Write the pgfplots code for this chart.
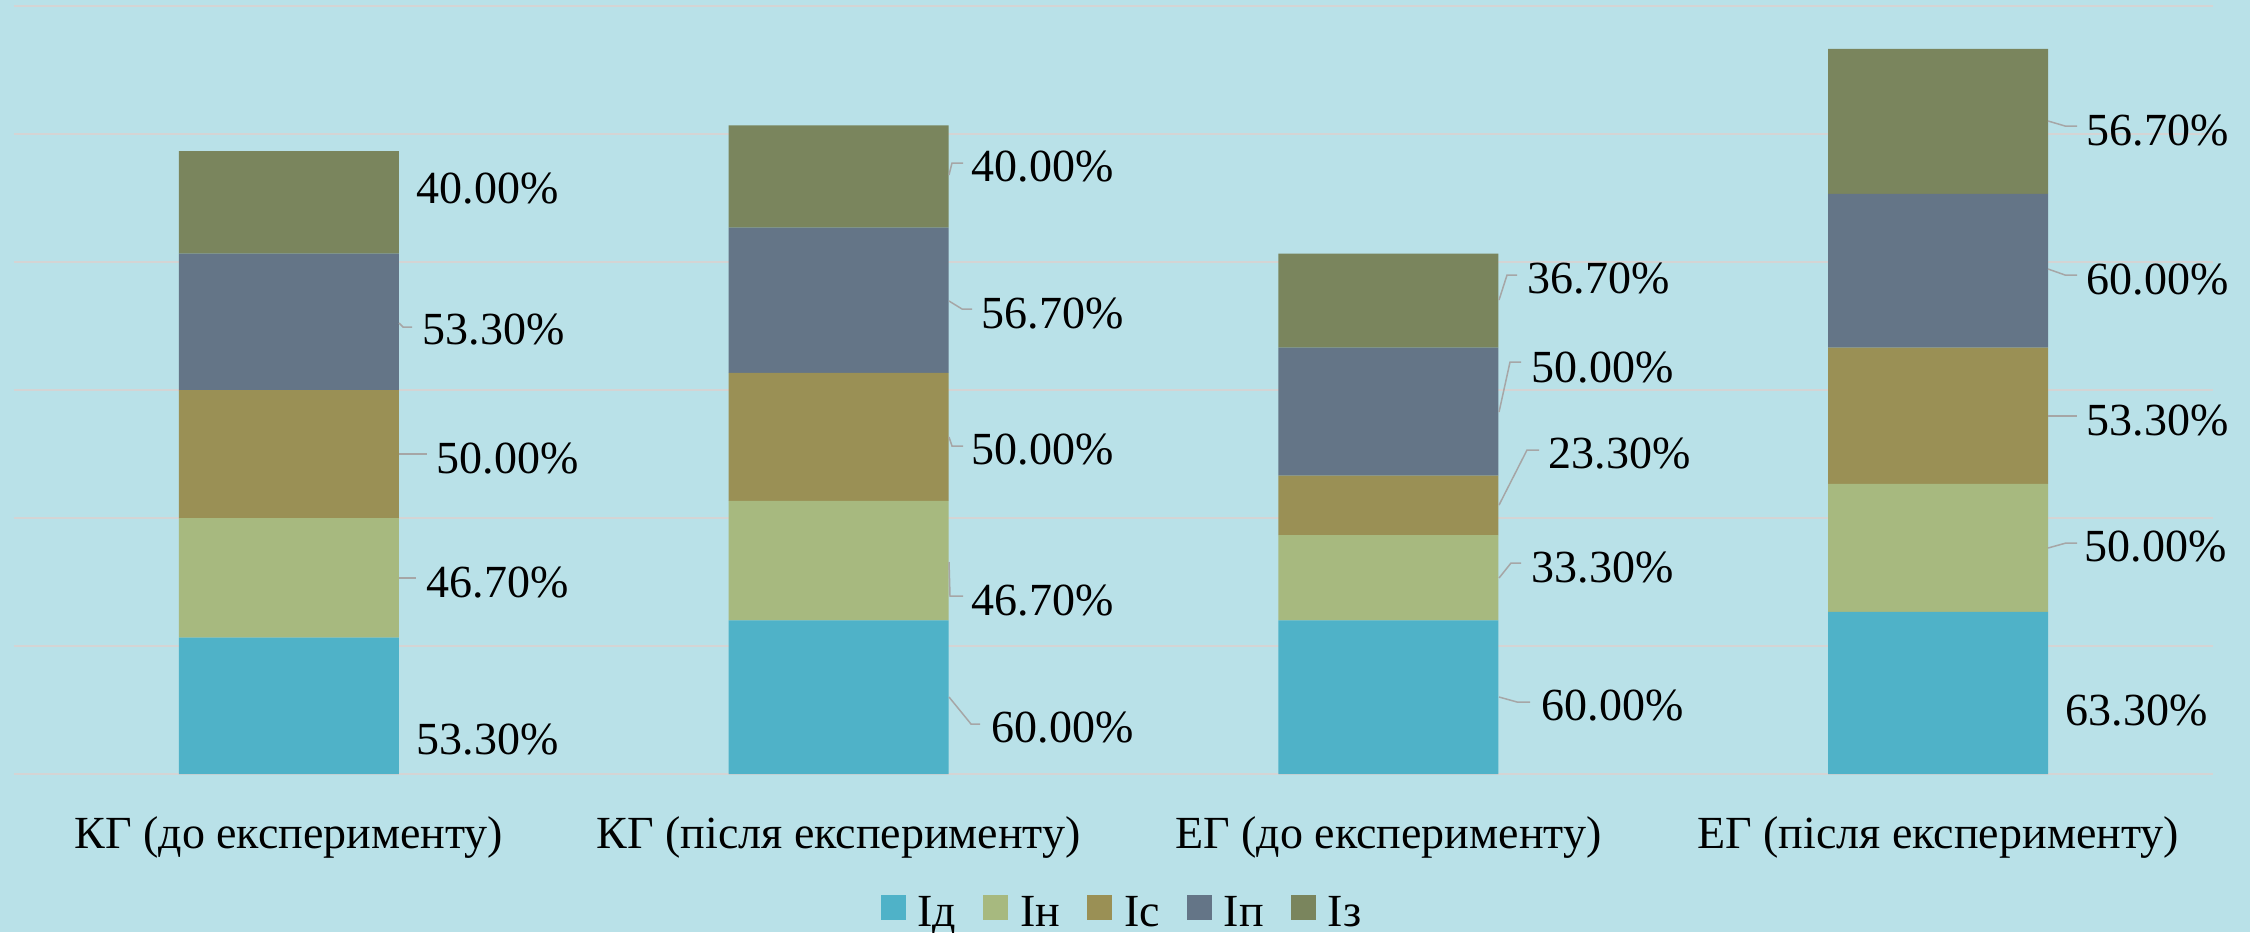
\documentclass[border=0pt]{standalone}
\usepackage{fontspec}
\setmainfont{Liberation Serif}
\usepackage{pgfplots}
\pgfplotsset{compat=1.18}

\definecolor{bgc}{HTML}{B9E1E8}
\definecolor{gridc}{HTML}{D4D4D4}
\definecolor{leadc}{HTML}{A6A6A6}
\definecolor{cd}{HTML}{4FB2C8}
\definecolor{cn}{HTML}{A7B97F}
\definecolor{cs}{HTML}{9A9055}
\definecolor{cp}{HTML}{647587}
\definecolor{cz}{HTML}{7A855D}

\begin{document}
\fontsize{13.8}{16}\selectfont
\begin{tikzpicture}
% page = 2250 x 932 px, 1 px = 0.3pt, axis corner at px (14,774)
\fill[bgc, use as bounding box] (-4.2pt,-47.4pt) rectangle (670.8pt,232.2pt);
\begin{axis}[
  at={(0pt,0pt)}, anchor=south west,
  scale only axis,
  width=659.7pt, height=230.4pt,
  xmin=-0.5, xmax=3.5,
  ymin=0, ymax=300,
  ybar stacked,
  bar width=66pt,
  axis line style={draw=none},
  major tick style={draw=none},
  ytick={0,50,...,300},
  yticklabels={},
  ymajorgrids,
  grid style={gridc, line width=0.6pt},
  xtick={0,1,2,3},
  xticklabels={КГ (до експерименту), КГ (після експерименту), ЕГ (до експерименту), ЕГ (після експерименту)},
  xticklabel style={anchor=base, yshift=-22.2pt, inner sep=0pt},
  legend columns=5,
  legend style={at={(axis description cs:0.5034,-0.1830)}, anchor=center,
    draw=none, fill=none, inner sep=0pt, nodes={inner sep=0pt},
    /tikz/every odd column/.append style={column sep=3.6pt},
    /tikz/every even column/.append style={column sep=8.1pt}},
  legend image code/.code={\fill[#1] (0pt,-1.6pt) rectangle (7.5pt,5.9pt);},
]
%Iд
\addplot [fill=cd, draw=none] coordinates {(0,53.3) (1,60.0) (2,60.0) (3,63.3)};
\addlegendentry{Ід}
%Iн
\addplot [fill=cn, draw=none] coordinates {(0,46.7) (1,46.7) (2,33.3) (3,50.0)};
\addlegendentry{Ін}
%Iс
\addplot [fill=cs, draw=none] coordinates {(0,50.0) (1,50.0) (2,23.3) (3,53.3)};
\addlegendentry{Іс}
%Iп
\addplot [fill=cp, draw=none] coordinates {(0,53.3) (1,56.7) (2,50.0) (3,60.0)};
\addlegendentry{Іп}
%Iз
\addplot [fill=cz, draw=none] coordinates {(0,40.0) (1,40.0) (2,36.7) (3,56.7)};
\addlegendentry{Із}
\end{axis}

% data labels and leader lines, in px of the reference
\begin{scope}[x=0.3pt, y=-0.3pt, shift={(-4.2pt,232.2pt)}]
\begin{scope}[leadc, line width=0.45pt]
\draw (399,323) -- (403,327) -- (412,327);
\draw (399,454) -- (427,454);
\draw (399,578) -- (416,578);
\draw (949,175) -- (952,163) -- (963,163);
\draw (949,301) -- (962,309) -- (972,309);
\draw (949,437) -- (952,446) -- (963,446);
\draw (949,562) -- (950,596) -- (963,596);
\draw (949,697) -- (971,724) -- (980,724);
\draw (1499,300) -- (1507,275) -- (1517,275);
\draw (1499,412) -- (1510,362) -- (1521,362);
\draw (1499,505) -- (1527,450) -- (1539,450);
\draw (1499,578) -- (1511,563) -- (1521,563);
\draw (1499,697) -- (1517,702) -- (1530,702);
\draw (2048,121) -- (2065,126) -- (2077,126);
\draw (2048,269) -- (2065,275) -- (2077,275);
\draw (2048,416) -- (2077,416);
\draw (2048,548) -- (2066,543) -- (2077,543);
\end{scope}
\begin{scope}[every node/.style={anchor=base west, inner sep=0pt}]
% KG before
\node at (416,754) {53.30\%};
\node at (426,597) {46.70\%};
\node at (436,473) {50.00\%};
\node at (422,344) {53.30\%};
\node at (416,203) {40.00\%};
% KG after
\node at (991,742) {60.00\%};
\node at (971,615) {46.70\%};
\node at (971,464) {50.00\%};
\node at (981,328) {56.70\%};
\node at (971,181) {40.00\%};
% EG before
\node at (1541,720) {60.00\%};
\node at (1531,582) {33.30\%};
\node at (1548,468) {23.30\%};
\node at (1531,382) {50.00\%};
\node at (1527,293) {36.70\%};
% EG after
\node at (2065,725) {63.30\%};
\node at (2084,561) {50.00\%};
\node at (2086,435) {53.30\%};
\node at (2086,294) {60.00\%};
\node at (2086,145) {56.70\%};
\end{scope}
\end{scope}
\end{tikzpicture}
\end{document}
